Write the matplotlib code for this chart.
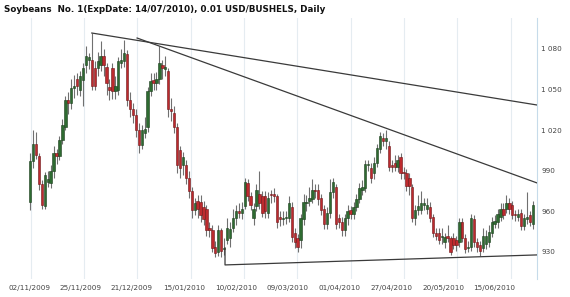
import numpy as np
import matplotlib
matplotlib.use('Agg')
import matplotlib.pyplot as plt

title = 'Soybeans  No. 1(ExpDate: 14/07/2010), 0.01 USD/BUSHELS, Daily'

# daily candles, 02/11/2009 .. mid 07/2010
opens = [967, 997, 1010, 1001, 980, 964, 982, 981, 990, 1003, 1001, 1013, 1022, 1042, 1040, 1051, 1058, 1050, 1057, 1068, 1072, 1072, 1066, 1066, 1068, 1075, 1067, 1052,
         1066, 1049, 1050, 1070, 1071, 1076, 1042, 1036, 1031, 1020, 1009, 1018, 1022, 1049, 1057, 1055, 1058, 1068, 1065, 1064, 1036, 1033, 1022, 1005, 994, 994, 985, 975, 961, 968,
         967, 963, 962, 948, 946, 934, 930, 946, 932, 939, 940, 948, 955, 960, 959, 964, 981, 971, 955, 964, 973, 971, 971, 959, 973, 973, 971,
         956, 954, 955, 955, 963, 944, 940, 939, 954, 966, 968, 969, 976, 976, 970, 962, 951, 959, 974, 978, 955, 952, 946, 955, 961, 958, 963, 969, 976, 977,
         994, 992, 988, 996, 1006, 1014, 1012, 1008, 994, 996, 993, 1000, 989, 988, 985, 978, 955, 961, 961, 965, 962, 963, 956, 944, 944, 941, 937, 942, 940,
         940, 939, 937, 952, 940, 933, 934, 954, 937, 935, 933, 936, 937, 944, 951, 952, 956, 962, 962, 966, 965, 958, 956, 959, 949, 954, 957, 951]
highs = [1003, 1020, 1019, 1003, 983, 989, 990, 994, 1008, 1006, 1016, 1028, 1045, 1048, 1058, 1061, 1062, 1064, 1070, 1082, 1077, 1092, 1071, 1078, 1086, 1080, 1070, 1058,
         1070, 1060, 1074, 1080, 1087, 1079, 1048, 1040, 1036, 1025, 1024, 1030, 1052, 1062, 1062, 1063, 1082, 1072, 1075, 1066, 1044, 1038, 1025, 1008, 1004, 998, 990, 978, 970, 972,
         972, 968, 965, 952, 950, 938, 950, 948, 940, 955, 952, 962, 965, 966, 967, 985, 984, 974, 966, 980, 990, 975, 975, 974, 976, 977, 973,
         960, 960, 960, 971, 967, 948, 943, 958, 973, 972, 978, 984, 980, 980, 973, 965, 963, 984, 985, 980, 958, 956, 958, 965, 964, 967, 973, 981, 983, 998,
         998, 996, 1000, 1010, 1019, 1018, 1020, 1012, 998, 1002, 1002, 1003, 993, 991, 988, 980, 965, 972, 975, 970, 970, 967, 958, 948, 948, 948, 944, 950, 942,
         944, 942, 955, 955, 943, 938, 958, 957, 940, 938, 948, 946, 950, 956, 957, 962, 966, 966, 972, 970, 968, 961, 962, 962, 958, 974, 960, 968]
lows = [961, 992, 999, 976, 962, 962, 978, 977, 985, 995, 998, 1010, 1020, 1032, 1036, 1044, 1046, 1045, 1038, 1062, 1065, 1050, 1050, 1060, 1064, 1060, 1046, 1042,
        1043, 1043, 1046, 1066, 1067, 1038, 1030, 1025, 1015, 1003, 1006, 1014, 1019, 1045, 1050, 1050, 1054, 1058, 1060, 1030, 1027, 1018, 988, 985, 987, 980, 970, 955, 957, 955,
        952, 950, 942, 941, 930, 926, 927, 926, 928, 936, 934, 945, 950, 955, 954, 962, 968, 961, 950, 960, 962, 956, 955, 955, 966, 967, 948,
        949, 950, 951, 952, 937, 933, 930, 933, 950, 960, 964, 966, 970, 965, 957, 947, 947, 955, 970, 947, 948, 942, 942, 950, 954, 954, 960, 966, 972, 974,
        990, 981, 984, 993, 1003, 1008, 1006, 990, 989, 990, 989, 984, 984, 975, 972, 952, 950, 957, 958, 961, 958, 952, 941, 939, 936, 936, 933, 937, 928,
        932, 931, 934, 937, 929, 930, 931, 934, 930, 927, 930, 932, 934, 941, 948, 948, 953, 954, 959, 958, 954, 953, 953, 946, 946, 951, 949, 947]
closes = [997, 1010, 1002, 980, 965, 987, 984, 990, 1003, 1001, 1013, 1024, 1042, 1040, 1051, 1053, 1053, 1060, 1066, 1075, 1074, 1053, 1053, 1071, 1075, 1068, 1055, 1050,
          1049, 1053, 1071, 1072, 1077, 1042, 1036, 1031, 1020, 1009, 1020, 1021, 1049, 1056, 1055, 1058, 1070, 1066, 1067, 1036, 1034, 1022, 994, 992, 1000, 985, 975, 961, 966, 962,
          957, 954, 946, 946, 933, 929, 946, 931, 933, 948, 947, 955, 960, 959, 962, 982, 971, 965, 962, 976, 966, 959, 960, 970, 972, 971, 952,
          954, 955, 956, 966, 941, 937, 934, 955, 967, 967, 970, 976, 975, 969, 961, 951, 959, 974, 982, 951, 952, 946, 955, 960, 958, 963, 969, 977, 978, 995,
          995, 985, 996, 1007, 1016, 1012, 1014, 993, 993, 993, 998, 988, 988, 979, 979, 955, 961, 964, 966, 966, 965, 955, 944, 942, 939, 942, 941, 940, 930,
          935, 935, 952, 940, 932, 934, 955, 937, 934, 931, 942, 942, 945, 952, 953, 958, 962, 957, 966, 962, 957, 957, 958, 949, 955, 956, 952, 965]

# x axis: date labels and grid lines, in candle-index units
date_labels = ['02/11/2009', '25/11/2009', '21/12/2009', '15/01/2010', '10/02/2010',
               '09/03/2010', '01/04/2010', '27/04/2010', '20/05/2010', '15/06/2010']
label_pos = [-0.3, 17, 34.4, 52.4, 70, 87.4, 105.3, 123, 140.5, 157.8]
grid_pos = [0.2, 18.4, 36.5, 54.7, 72.8, 90.9, 109.1, 127.2, 145.3, 163.5]
price_ticks = [930, 960, 990, 1020, 1050, 1080]

# drawn trend lines: (candle index, price)
trend_a = [(21, 1091.8), (172.4, 1038.6)]
trend_b = [(36.4, 1088.1), (172.4, 981.0)]
trend_c = [(66.3, 933), (66.3, 920.4), (172.4, 927.8)]

o = np.array(opens, float)
h = np.array(highs, float)
l = np.array(lows, float)
c = np.array(closes, float)
x = np.arange(len(o))

up = c >= o
body_col = np.where(up, '#2e6b31', '#bd2a2e')
edge_col = np.where(up, '#1c3d1d', '#6e1618')

fig = plt.figure(figsize=(5.7, 2.97), dpi=100)
ax = fig.add_axes([3/570, 1 - 279/297, 534/570, 261/297])

ax.vlines(x, l, h, color='#707070', lw=0.8, zorder=2)
ax.bar(x, np.maximum(np.abs(c - o), 0.6), bottom=np.minimum(o, c), width=0.8,
       color=body_col, edgecolor=edge_col, linewidth=0.4, zorder=3)

for line in (trend_a, trend_b, trend_c):
    lx, ly = zip(*line)
    ax.plot(lx, ly, color='#3a3a3a', lw=0.9, zorder=4)

ax.set_xlim(-9.2, 172.4)
ax.set_ylim(910, 1102.9)

ax.set_xticks(label_pos)
ax.set_xticklabels(date_labels)
ax.set_xticks(grid_pos, minor=True)
ax.grid(which='minor', axis='x', color='#e5ecf1', lw=0.8)
ax.tick_params(axis='x', which='both', length=0, pad=4, labelsize=5.2, labelcolor='#444444')

ax.yaxis.tick_right()
ax.set_yticks(price_ticks)
ax.set_yticklabels([f'{v:,}'.replace(',', ' ') for v in price_ticks])
ax.tick_params(axis='y', length=0, pad=3, labelsize=5.2, labelcolor='#444444')

for side in ('left', 'top', 'bottom'):
    ax.spines[side].set_visible(False)
ax.spines['right'].set_color('#c6dbea')
ax.spines['right'].set_linewidth(0.8)

fig.text(4/570, 1 - 9/297, title, fontsize=6.3, fontweight='bold', va='center', color='#111111')

fig.savefig('out.png', dpi=100)
